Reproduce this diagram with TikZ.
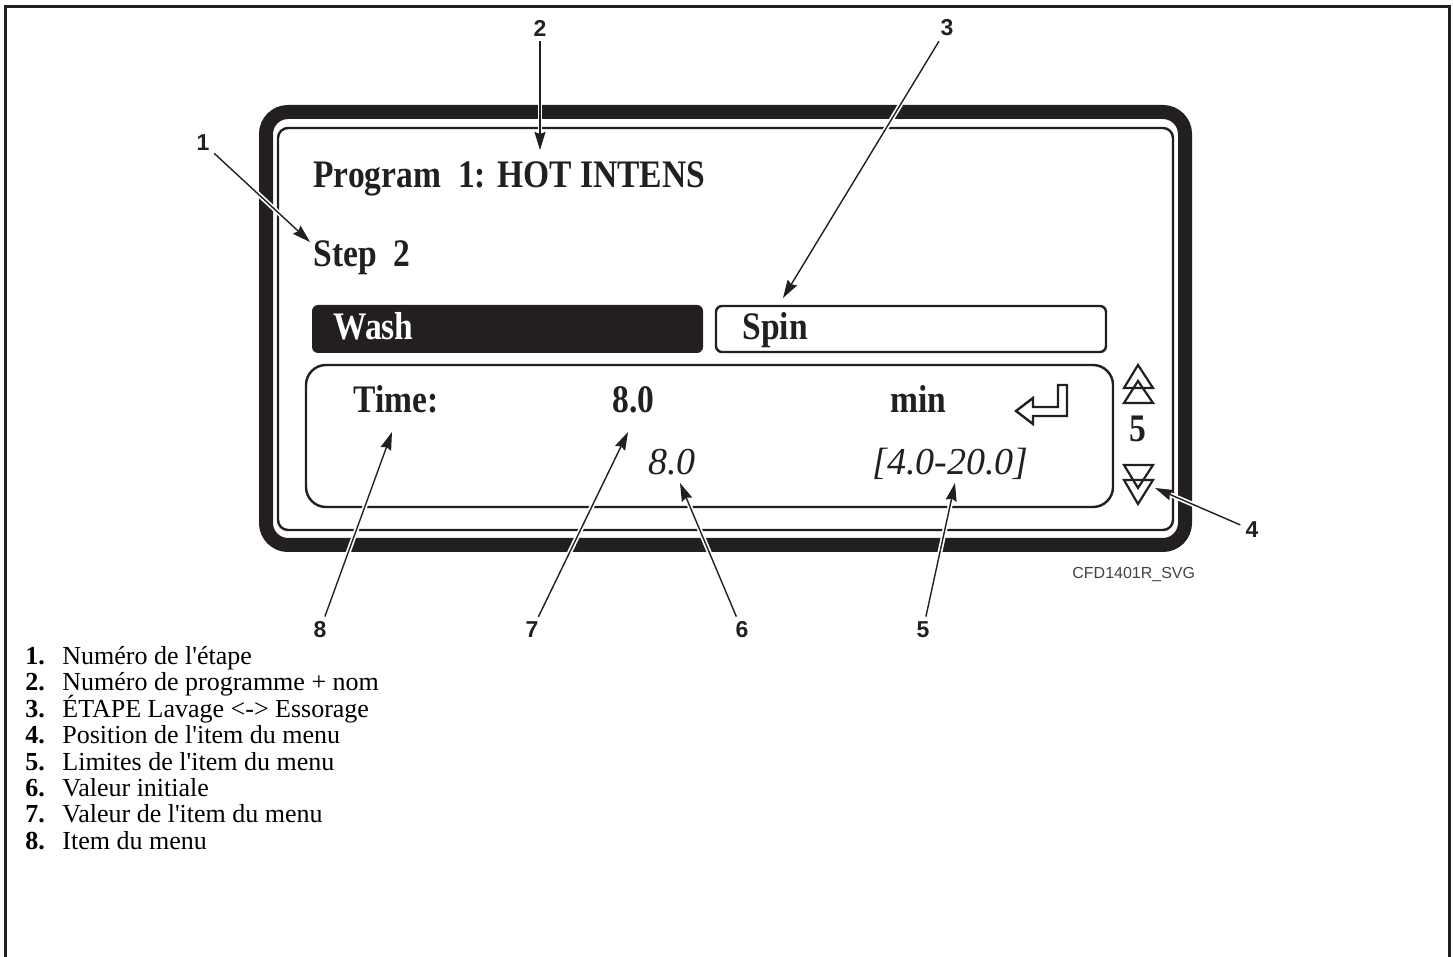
\documentclass[tikz,border=0pt]{standalone}
\usepackage{fontspec}
\setmainfont{Liberation Serif}
\newfontfamily\lcdfont[FakeStretch=0.86]{Liberation Serif}
\newfontfamily\labelfont{Liberation Sans}
\usetikzlibrary{arrows.meta}
\definecolor{ink}{HTML}{231F20}

\begin{document}
\begin{tikzpicture}[x=0.5pt,y=-0.5pt,
        lcd/.style={font=\lcdfont\fontsize{19.5}{21}\selectfont\bfseries,text=ink,inner sep=0pt,anchor=base west},
        lcdit/.style={font=\fontsize{19}{21}\selectfont\itshape,text=ink,inner sep=0pt,anchor=base west},
        num/.style={font=\labelfont\fontsize{11.5}{13}\selectfont\bfseries,text=ink,inner sep=1.5pt},
        callout/.style={draw=ink,line width=0.7pt,shorten <=1pt,-{Stealth[inset=1pt,length=9pt,width=5.5pt]},
            preaction={draw=white,line width=2.4pt,-,shorten >=3pt}},
        thinline/.style={draw=ink,line width=1.2pt},
        legnum/.style={font=\fontsize{13}{15}\selectfont\bfseries,inner sep=0pt,anchor=base west},
        legtxt/.style={font=\fontsize{13}{15}\selectfont,inner sep=0pt,anchor=base west}]
            \useasboundingbox (0,0) rectangle (1453,957);
            \draw[ink,line width=1.5pt] (5,960) -- (5,7) -- (1449,7) -- (1449,960);

            \draw[ink,line width=7pt,rounded corners=11pt] (266,112) rectangle (1185,545);
            \draw[thinline,rounded corners=5pt] (278,128) rectangle (1173,530);
            \fill[ink,rounded corners=3pt] (312,305) rectangle (703,353);
            \draw[thinline,rounded corners=3pt] (716,306) rectangle (1106,352);
            \draw[thinline,rounded corners=10pt] (306,365) rectangle (1113,507);

            \node[lcd] (prog) at (313,188) {Program\ \ 1: HOT INTENS};
            \node[lcd] (step) at (313,267) {Step\ \ 2};
            \node[lcd,text=white] (wash) at (333,340) {Wash};
            \node[lcd] (spin) at (742,340) {Spin};
            \node[lcd] (time) at (353,413) {Time:};
            \node[lcd] (val) at (612,413) {8.0};
            \node[lcd] (unit) at (890,413) {min};
            \node[lcdit] (init) at (648,475) {8.0};
            \node[lcdit] (lim) at (872,475) {[4.0-20.0]};
            \node[lcd,anchor=base] (pos) at (1138,442) {5};

            \draw[ink,line width=1.2pt] (1016,411) -- (1033,398) -- (1033,407) -- (1058,407) -- (1058,385)
                -- (1067,385) -- (1067,416) -- (1033,416) -- (1033,424) -- cycle;
            \draw[ink,line width=1.1pt] (1138,365) -- (1153,388) -- (1124,388) -- cycle;
            \draw[ink,line width=1.1pt] (1138,381) -- (1153,403) -- (1124,403) -- cycle;
            \draw[ink,line width=1.1pt] (1124,465) -- (1153,465) -- (1138,488) -- cycle;
            \draw[ink,line width=1.1pt] (1124,480) -- (1153,480) -- (1138,504) -- cycle;

            \node[font=\labelfont\fontsize{8}{9}\selectfont,text=ink!85,inner sep=0pt,anchor=base west] (code) at (1072,578) {CFD1401R\_SVG};

            \node[num] (n1) at (203,143) {1};
            \node[num] (n2) at (540,28) {2};
            \node[num] (n3) at (947,28) {3};
            \node[num] (n4) at (1252,530) {4};
            \node[num] (n5) at (923,630) {5};
            \node[num] (n6) at (742,630) {6};
            \node[num] (n7) at (532,630) {7};
            \node[num] (n8) at (320,630) {8};

            \coordinate (t1) at (310,242);
            \coordinate (t2) at (540,150);
            \coordinate (t3) at (783,298);
            \coordinate (t4) at (1155,488);
            \coordinate (t5) at (955,483);
            \coordinate (t6) at (680,483);
            \coordinate (t7) at (628,432);
            \coordinate (t8) at (392,432);

            \draw[callout] (n1) -- (t1);
            \draw[callout] (n2) -- (t2);
            \draw[callout] (n3) -- (t3);
            \draw[callout] (n4) -- (t4);
            \draw[callout] (n5) -- (t5);
            \draw[callout] (n6) -- (t6);
            \draw[callout] (n7) -- (t7);
            \draw[callout] (n8) -- (t8);

            \node[legnum] (k1) at (25,664) {1.};
            \node[legnum] (k2) at (25,690) {2.};
            \node[legnum] (k3) at (25,717) {3.};
            \node[legnum] (k4) at (25,743) {4.};
            \node[legnum] (k5) at (25,770) {5.};
            \node[legnum] (k6) at (25,796) {6.};
            \node[legnum] (k7) at (25,822) {7.};
            \node[legnum] (k8) at (25,849) {8.};
            \node[legtxt] (d1) at (62,664) {Numéro de l\textquotesingle étape};
            \node[legtxt] (d2) at (62,690) {Numéro de programme + nom};
            \node[legtxt] (d3) at (62,717) {ÉTAPE Lavage <-> Essorage};
            \node[legtxt] (d4) at (62,743) {Position de l\textquotesingle item du menu};
            \node[legtxt] (d5) at (62,770) {Limites de l\textquotesingle item du menu};
            \node[legtxt] (d6) at (62,796) {Valeur initiale};
            \node[legtxt] (d7) at (62,822) {Valeur de l\textquotesingle item du menu};
            \node[legtxt] (d8) at (62,849) {Item du menu};
        \end{tikzpicture}
\end{document}
